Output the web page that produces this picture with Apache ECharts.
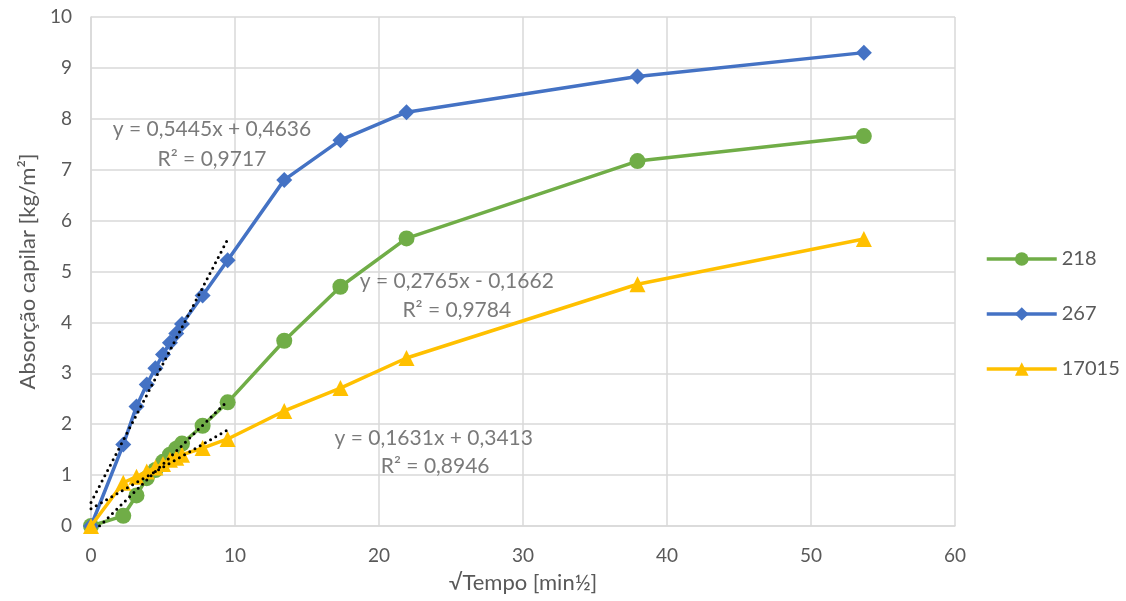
<!DOCTYPE html>
<html>
<head>
<meta charset="utf-8">
<script src="https://cdn.jsdelivr.net/npm/echarts@6/dist/echarts.min.js"></script>
<style>
html,body{margin:0;padding:0;background:#fff;}
#c{width:1126px;height:601px;}
</style>
</head>
<body>
<div id="c"></div>
<script>
// √Tempo [min½] values
const sqrtTime = [0, 2.24, 3.16, 3.87, 4.47, 5.00, 5.48, 5.92, 6.32, 7.75, 9.49, 13.42, 17.32, 21.91, 37.95, 53.67];
const s218   = [0, 0.20, 0.60, 0.94, 1.10, 1.26, 1.40, 1.52, 1.62, 1.97, 2.43, 3.64, 4.70, 5.65, 7.17, 7.66];
const s267   = [0, 1.60, 2.35, 2.78, 3.10, 3.37, 3.60, 3.78, 3.97, 4.53, 5.22, 6.80, 7.58, 8.13, 8.83, 9.30];
const s17015 = [0, 0.85, 0.97, 1.07, 1.15, 1.22, 1.30, 1.34, 1.40, 1.53, 1.71, 2.26, 2.71, 3.30, 4.75, 5.64];
const seriesNames = ['218', '267', '17015'];
// Linear trendlines (fitted on first 11 points, x from 0 to 9.49)
const trendSlope = [0.2765, 0.5445, 0.1631];
const trendIntercept = [-0.1662, 0.4636, 0.3413];
const trendRange = [0, 9.49];
const trendEq = ['y = 0,2765x - 0,1662', 'y = 0,5445x + 0,4636', 'y = 0,1631x + 0,3413'];
const trendR2 = ['R² = 0,9784', 'R² = 0,9717', 'R² = 0,8946'];
// label anchors (data coordinates)
const eqPos = [[25.4, 4.81], [8.4, 7.80], [23.8, 1.72]];
const r2Pos = [[25.4, 4.24], [8.4, 7.21], [23.9, 1.17]];

const colors = ['#70AD47', '#4472C4', '#FFC000'];
const symbols = ['circle', 'diamond', 'triangle'];
const symSizes = [16, [16, 16], 16];
const dataSets = [s218, s267, s17015];
const FONT = 'Lato, "Open Sans", sans-serif';
const TXT = '#595959';

const series = [];
dataSets.forEach((d, i) => {
  series.push({
    name: seriesNames[i], type: 'line',
    data: sqrtTime.map((x, k) => [x, d[k]]),
    symbol: symbols[i], symbolSize: symSizes[i],
    showAllSymbol: true,
    lineStyle: {color: colors[i], width: 3.5},
    itemStyle: {color: colors[i]},
    z: 2 + i
  });
});
dataSets.forEach((d, i) => {
  series.push({
    type: 'line',
    data: trendRange.map(x => [x, trendSlope[i] * x + trendIntercept[i]]),
    symbol: 'none',
    clip: true,
    lineStyle: {color: '#000', width: 3, type: [0, 6], cap: 'round'},
    silent: true, z: 10
  });
});
const labelData = [];
for (let i = 0; i < 3; i++) {
  labelData.push([eqPos[i][0], eqPos[i][1], trendEq[i]]);
  labelData.push([r2Pos[i][0], r2Pos[i][1], trendR2[i]]);
}
series.push({
  type: 'scatter', data: labelData, symbolSize: 2,
  itemStyle: {color: 'rgba(0,0,0,0)'}, silent: true, z: 20,
  label: {show: true, position: 'inside', formatter: p => p.data[2],
          color: TXT, fontSize: 21, fontFamily: FONT}
});

const chart = echarts.init(document.getElementById('c'), null, {renderer: 'canvas'});
chart.setOption({
  animation: false,
  backgroundColor: '#fff',
  textStyle: {fontFamily: FONT, color: TXT},
  grid: {left: 91, top: 17, width: 864, height: 509, containLabel: false},
  legend: {
    orient: 'vertical', left: 980, top: 244,
    data: seriesNames, itemWidth: 70, itemHeight: 17, itemGap: 35,
    lineStyle: {width: 3.5},
    textStyle: {color: TXT, fontSize: 20, fontFamily: FONT}
  },
  xAxis: {
    type: 'value', min: 0, max: 60, interval: 10,
    name: '√Tempo [min½]', nameLocation: 'middle', nameGap: 46,
    nameTextStyle: {fontSize: 22, color: TXT, fontFamily: FONT},
    axisLine: {show: true, lineStyle: {color: '#D9D9D9', width: 1.5}},
    axisTick: {show: false},
    axisLabel: {fontSize: 19, color: TXT, margin: 20, fontFamily: FONT},
    splitLine: {show: true, lineStyle: {color: '#D9D9D9', width: 1.5}}
  },
  yAxis: {
    type: 'value', min: 0, max: 10, interval: 1,
    name: 'Absorção capilar [kg/m²]', nameLocation: 'middle', nameGap: 51,
    nameTextStyle: {fontSize: 22, color: TXT, fontFamily: FONT},
    axisLine: {show: true, lineStyle: {color: '#D9D9D9', width: 1.5}},
    axisTick: {show: false},
    axisLabel: {fontSize: 19, color: TXT, margin: 19, fontFamily: FONT},
    splitLine: {show: true, lineStyle: {color: '#D9D9D9', width: 1.5}}
  },
  series: series
});
</script>
</body>
</html>
